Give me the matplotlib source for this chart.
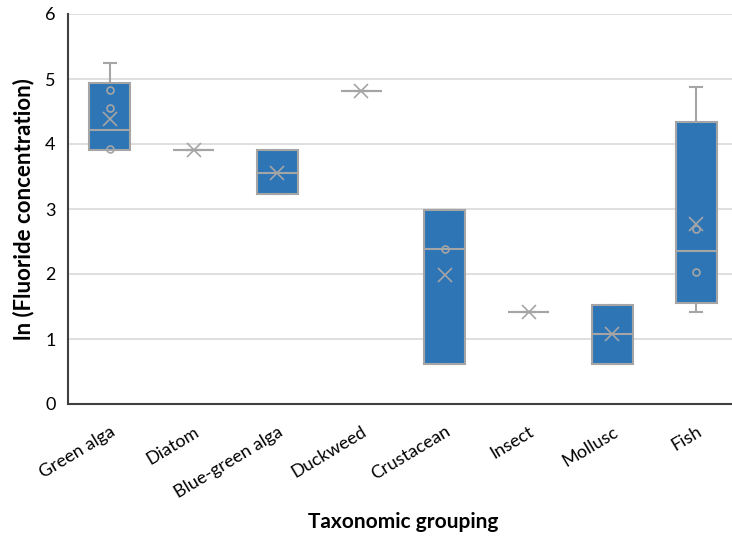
import matplotlib
matplotlib.use('Agg')
import matplotlib.pyplot as plt
import numpy as np

plt.rcParams['font.family'] = ['Lato', 'DejaVu Sans']

# Box plot data (ln of fluoride concentration)
categories = ['Green alga', 'Diatom', 'Blue-green alga', 'Duckweed',
              'Crustacean', 'Insect', 'Mollusc', 'Fish']
whisker_lo = [3.91, 3.91, 3.23, 4.82, 0.61, 1.41, 0.61, 1.41]
q1 = [3.91, 3.91, 3.23, 4.82, 0.61, 1.41, 0.61, 1.56]
median = [4.22, 3.91, 3.56, 4.82, 2.39, 1.41, 1.07, 2.36]
q3 = [4.94, 3.91, 3.91, 4.82, 2.98, 1.41, 1.52, 4.34]
whisker_hi = [5.25, 3.91, 3.91, 4.82, 2.98, 1.41, 1.52, 4.88]
means = [4.38, 3.91, 3.56, 4.82, 1.98, 1.41, 1.07, 2.77]
inner_points = [[4.83, 4.55, 3.92], [], [], [], [2.39], [], [], [2.69, 2.03]]

box_color = '#2E75B6'
line_color = '#A5A5A5'

fig = plt.figure(figsize=(7.32, 5.37), dpi=100, facecolor='white')
ax = fig.add_axes([68 / 732, 133 / 537, 670 / 732, 390 / 537])

stats = []
for i, name in enumerate(categories):
    stats.append({'label': name, 'whislo': whisker_lo[i], 'q1': q1[i], 'med': median[i],
                  'q3': q3[i], 'whishi': whisker_hi[i], 'mean': means[i], 'fliers': []})

x = np.arange(len(categories))
ax.bxp(stats, positions=x, widths=0.49, capwidths=0.15, patch_artist=True,
       showmeans=True, showfliers=False,
       boxprops=dict(facecolor=box_color, edgecolor=line_color, linewidth=1.5),
       medianprops=dict(color=line_color, linewidth=1.5),
       whiskerprops=dict(color=line_color, linewidth=1.5),
       capprops=dict(color=line_color, linewidth=1.5),
       meanprops=dict(marker='x', markersize=10, markeredgecolor=line_color,
                      markeredgewidth=1.2, linestyle='none'),
       zorder=3)

# Inner points
for i, pts in enumerate(inner_points):
    if pts:
        ax.plot([x[i]] * len(pts), pts, linestyle='none', marker='o', markersize=5,
                markerfacecolor='none', markeredgecolor=line_color,
                markeredgewidth=1.2, zorder=4)

ax.set_xlim(-0.5, len(categories) - 0.5)
ax.set_ylim(0, 6)
ax.set_yticks(range(0, 7))
ax.yaxis.grid(True, color='#D9D9D9', linewidth=1.2, zorder=0)
ax.set_axisbelow(True)

ax.set_xticks(x)
ax.set_xticklabels(categories, rotation=31, ha='right', rotation_mode='anchor',
                   fontsize=13, color='#000000')
ax.tick_params(axis='y', labelsize=13, length=0, pad=9)
ax.tick_params(axis='x', length=0, pad=14)

for side in ['top', 'right']:
    ax.spines[side].set_visible(False)
for side in ['left', 'bottom']:
    ax.spines[side].set_color('#404040')
    ax.spines[side].set_linewidth(1.5)

ax.set_ylabel('ln (Fluoride concentration)', fontsize=16, fontweight='bold', labelpad=8)
fig.text(403 / 732, 1 - 522 / 537, 'Taxonomic grouping', fontsize=15, fontweight='bold',
         ha='center', va='center')

fig.savefig('out.png', dpi=100, facecolor='white')
